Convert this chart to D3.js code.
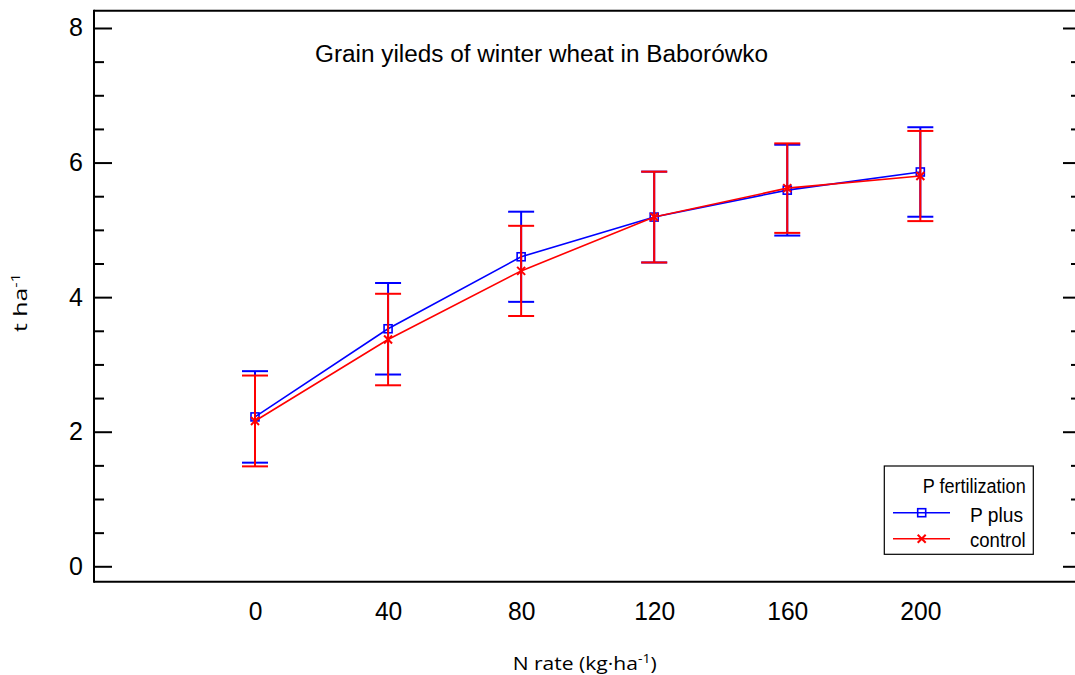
<!DOCTYPE html>
<html>
<head>
<meta charset="utf-8">
<script src="https://cdn.jsdelivr.net/npm/d3@7"></script>
<style>
  html, body { margin: 0; padding: 0; background: #fff; }
  svg { display: block; }
</style>
</head>
<body>
<svg id="chart" width="1075" height="675"></svg>
<script>
// ---- data ----
const nRates = [0, 40, 80, 120, 160, 200];
const pPlus = [2.22, 3.53, 4.60, 5.19, 5.59, 5.86];
const pPlusErr = [0.68, 0.68, 0.67, 0.675, 0.675, 0.665];
const control = [2.16, 3.37, 4.39, 5.19, 5.62, 5.80];
const controlErr = [0.675, 0.68, 0.67, 0.675, 0.665, 0.67];
const yMajorTicks = [0, 2, 4, 6, 8];
const yMinorTicks = [0.5, 1, 1.5, 2.5, 3, 3.5, 4.5, 5, 5.5, 6.5, 7, 7.5];
const xTickLabels = [0, 40, 80, 120, 160, 200];
const seriesNames = ["P plus", "control"];
const titleText = "Grain yileds of winter wheat in Baborówko";
const legendTitle = "P fertilization";

// ---- layout ----
const pLeft = 94, pRight = 1081, pTop = 10.7, pBottom = 581.7;
const svg = d3.select("#chart");

const x = d3.scaleLinear().domain([-48.4, 248.3]).range([pLeft, pRight]);
const y = d3.scaleLinear().domain([-0.229, 8.257]).range([pBottom, pTop]);

const axisFont = "'Liberation Sans', Arial, sans-serif";
const labelFont = "'Open Sans', Lato, sans-serif";

// frame (top, bottom, left, right)
const frame = svg.append("g").attr("stroke", "#000").attr("stroke-width", 2).attr("fill", "none");
frame.append("line").attr("x1", pLeft).attr("x2", pRight).attr("y1", pTop).attr("y2", pTop);
frame.append("line").attr("x1", pLeft).attr("x2", pRight).attr("y1", pBottom).attr("y2", pBottom);
frame.append("line").attr("x1", pLeft).attr("x2", pLeft).attr("y1", pTop - 1).attr("y2", pBottom + 1);
frame.append("line").attr("x1", pRight).attr("x2", pRight).attr("y1", pTop - 1).attr("y2", pBottom + 1);

// left major ticks with labels
const gLeft = svg.append("g").attr("transform", `translate(${pLeft},0)`)
  .call(d3.axisLeft(y).tickValues(yMajorTicks).tickSizeInner(-18).tickSizeOuter(0).tickPadding(11).tickFormat(d3.format("d")));
gLeft.select(".domain").remove();
gLeft.selectAll(".tick line").attr("stroke-width", 2);
gLeft.selectAll(".tick text").attr("font-family", axisFont).attr("font-size", 25).attr("fill", "#000");

// left minor ticks
const gLeftMin = svg.append("g").attr("transform", `translate(${pLeft},0)`)
  .call(d3.axisLeft(y).tickValues(yMinorTicks).tickSizeInner(-10).tickSizeOuter(0).tickFormat(""));
gLeftMin.select(".domain").remove();
gLeftMin.selectAll(".tick line").attr("stroke-width", 2);

// right ticks
const gRight = svg.append("g").attr("transform", `translate(${pRight},0)`)
  .call(d3.axisRight(y).tickValues(yMajorTicks).tickSizeInner(-18).tickSizeOuter(0).tickFormat(""));
gRight.select(".domain").remove();
gRight.selectAll(".tick line").attr("stroke-width", 2);
const gRightMin = svg.append("g").attr("transform", `translate(${pRight},0)`)
  .call(d3.axisRight(y).tickValues(yMinorTicks).tickSizeInner(-10).tickSizeOuter(0).tickFormat(""));
gRightMin.select(".domain").remove();
gRightMin.selectAll(".tick line").attr("stroke-width", 2);

// bottom labels (no tick marks)
const gBottom = svg.append("g").attr("transform", `translate(0,${pBottom})`)
  .call(d3.axisBottom(x).tickValues(xTickLabels).tickSize(0).tickPadding(19).tickFormat(d3.format("d")));
gBottom.select(".domain").remove();
gBottom.selectAll(".tick text").attr("font-family", axisFont).attr("font-size", 26.5).attr("fill", "#000")
  .attr("textLength", d => String(d).length * 13.7).attr("lengthAdjust", "spacingAndGlyphs");

// title
svg.append("text").attr("x", 315).attr("y", 61.5)
  .attr("font-family", axisFont).attr("font-size", 23)
  .attr("textLength", 453).attr("lengthAdjust", "spacingAndGlyphs")
  .text(titleText);

// x axis label
const xl = svg.append("text").attr("x", 512.7).attr("y", 670)
  .attr("font-family", labelFont).attr("font-size", 18).attr("fill", "#000")
  .attr("textLength", 144).attr("lengthAdjust", "spacingAndGlyphs");
xl.append("tspan").text("N rate (kg·ha");
xl.append("tspan").attr("font-size", 12).attr("dy", -7).text("-1");
xl.append("tspan").attr("dy", 7).text(")");

// y axis label
const yl = svg.append("text").attr("transform", "translate(27,332) rotate(-90)")
  .attr("font-family", labelFont).attr("font-size", 18).attr("fill", "#000")
  .attr("textLength", 59).attr("lengthAdjust", "spacingAndGlyphs");
yl.append("tspan").text("t ha");
yl.append("tspan").attr("font-size", 12).attr("dy", -7).text("-1");

// ---- series ----
const series = [
  { name: seriesNames[0], vals: pPlus, err: pPlusErr, color: "#0000ff", marker: "square" },
  { name: seriesNames[1], vals: control, err: controlErr, color: "#ff0000", marker: "x" }
];
const capHalf = 13;
const line = d3.line().x((d, i) => x(nRates[i])).y(d => y(d));

function drawMarker(g, type, cx, cy, color) {
  if (type === "square") {
    g.append("rect").attr("x", cx - 4).attr("y", cy - 4).attr("width", 8).attr("height", 8)
      .attr("fill", "none").attr("stroke", color).attr("stroke-width", 1.6);
  } else {
    g.append("path").attr("d", `M${cx-4},${cy-4}L${cx+4},${cy+4}M${cx-4},${cy+4}L${cx+4},${cy-4}`)
      .attr("stroke", color).attr("stroke-width", 2).attr("fill", "none");
  }
}

series.forEach(s => {
  const g = svg.append("g");
  s.vals.forEach((v, i) => {
    const cx = x(nRates[i]);
    const yHi = y(v + s.err[i]), yLo = y(v - s.err[i]);
    g.append("line").attr("x1", cx).attr("x2", cx).attr("y1", yHi).attr("y2", yLo)
      .attr("stroke", s.color).attr("stroke-width", 2);
    g.append("line").attr("x1", cx - capHalf).attr("x2", cx + capHalf).attr("y1", yHi).attr("y2", yHi)
      .attr("stroke", s.color).attr("stroke-width", 2);
    g.append("line").attr("x1", cx - capHalf).attr("x2", cx + capHalf).attr("y1", yLo).attr("y2", yLo)
      .attr("stroke", s.color).attr("stroke-width", 2);
  });
  g.append("path").datum(s.vals).attr("d", line).attr("fill", "none")
    .attr("stroke", s.color).attr("stroke-width", 1.6);
  s.vals.forEach((v, i) => drawMarker(g, s.marker, x(nRates[i]), y(v), s.color));
});

// ---- legend ----
const lg = svg.append("g");
lg.append("rect").attr("x", 884.3).attr("y", 466).attr("width", 149).attr("height", 88.3)
  .attr("fill", "#fff").attr("stroke", "#000").attr("stroke-width", 1.2);
lg.append("text").attr("x", 922.7).attr("y", 493).attr("font-family", axisFont).attr("font-size", 20)
  .attr("textLength", 103).attr("lengthAdjust", "spacingAndGlyphs").text(legendTitle);
const legendY = [512.7, 538.7];
const legendTextY = [521.7, 546.5];
const legendTextLen = [53, 55.7];
series.forEach((s, i) => {
  lg.append("line").attr("x1", 893).attr("x2", 950).attr("y1", legendY[i]).attr("y2", legendY[i])
    .attr("stroke", s.color).attr("stroke-width", 1.6);
  drawMarker(lg, s.marker, 921.7, legendY[i], s.color);
  lg.append("text").attr("x", 970).attr("y", legendTextY[i]).attr("font-family", axisFont).attr("font-size", 20)
    .attr("textLength", legendTextLen[i]).attr("lengthAdjust", "spacingAndGlyphs").text(s.name);
});
</script>
</body>
</html>
